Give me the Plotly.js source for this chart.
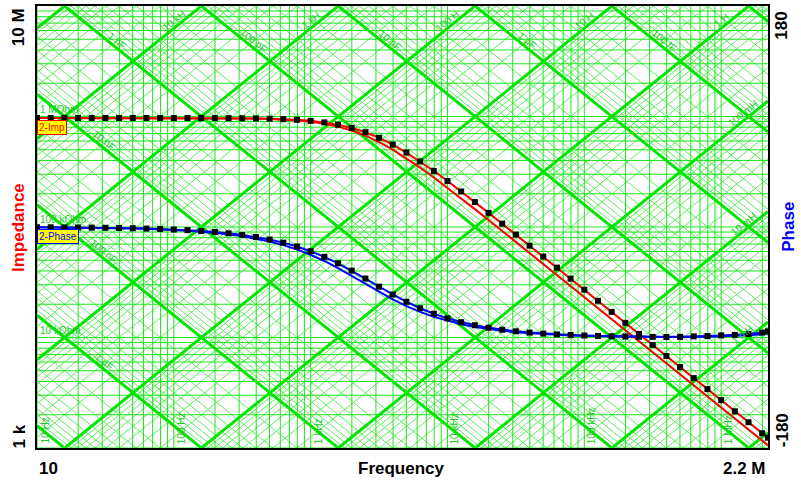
<!DOCTYPE html>
<html>
<head>
<meta charset="utf-8">
<script src="https://cdn.plot.ly/plotly-3.0.1.min.js"></script>
<style>html,body{margin:0;padding:0;background:#fff;}#chart{width:801px;height:480px;}</style>
</head>
<body>
<div id="chart"></div>
<script>
// ---- data ----
const freqHz = [10, 12.59, 15.85, 19.95, 25.12, 31.62, 39.81, 50.12, 63.1, 79.43,
  100, 125.9, 158.5, 199.5, 251.2, 316.2, 398.1, 501.2, 631, 794.3,
  1000, 1259, 1585, 1995, 2512, 3162, 3981, 5012, 6310, 7943,
  10000, 12590, 15850, 19950, 25120, 31620, 39810, 50120, 63100, 79430,
  100000, 125900, 158500, 199500, 251200, 316200, 398100, 501200, 631000, 794300,
  1000000, 1259000, 1585000, 1995000, 2200000];

const impMarked = [970000, 970000, 970000, 970000, 970000, 970000, 969900, 969800, 969800, 969600,
  969400, 969000, 968400, 967500, 966100, 963800, 960300, 954700, 946100, 932900,
  913100, 884100, 843400, 789000, 720900, 641800, 556700, 471800, 392300, 321500,
  260700, 209900, 168200, 134300, 107100, 85260, 67810, 54000, 42890, 34070,
  27060, 21500, 17070, 13570, 10770, 8560, 6800, 5400, 4290, 3410,
  2710, 2150, 1710, 1360, 1240];

const impPlain = [970000, 970000, 970000, 970000, 970000, 970000, 970000, 969900, 969700, 969500,
  969200, 968700, 967900, 966700, 964700, 961700, 956900, 949500, 938100, 920900,
  895400, 859000, 809400, 745900, 670100, 586400, 500800, 418900, 344800, 280600,
  226400, 181600, 145200, 115900, 92260, 73410, 58480, 46450, 36890, 29310,
  23280, 18490, 14690, 11670, 9270, 7360, 5850, 4640, 3690, 2930,
  2330, 1850, 1470, 1170, 1060];

const phaseMarked = [-0.21, -0.26, -0.33, -0.41, -0.52, -0.65, -0.82, -1.03, -1.30, -1.63,
  -2.05, -2.58, -3.25, -4.09, -5.14, -6.47, -8.12, -10.18, -12.74, -15.89,
  -19.72, -24.29, -29.60, -35.56, -41.99, -48.58, -54.98, -60.90, -66.15, -70.64,
  -74.41, -77.50, -80.02, -82.04, -83.66, -84.96, -85.99, -86.81, -87.47, -87.99,
  -88.40, -88.73, -88.99, -89.20, -89.36, -89.49, -89.60, -89.50, -89.10, -88.80,
  -88.30, -87.90, -87.10, -86.00, -85.00];

const phasePlain = [-0.24, -0.30, -0.38, -0.48, -0.60, -0.75, -0.95, -1.20, -1.51, -1.90,
  -2.39, -3.00, -3.78, -4.75, -5.98, -7.51, -9.42, -11.80, -14.73, -18.31,
  -22.62, -27.68, -33.44, -39.74, -46.31, -52.80, -58.91, -64.41, -69.18, -73.19,
  -76.50, -79.21, -81.39, -83.14, -84.54, -85.66, -86.55, -87.26, -87.82, -88.27,
  -88.63, -88.91, -89.13, -89.31, -89.45, -89.57, -89.65, -89.73, -89.60, -89.40,
  -89.10, -88.70, -88.20, -87.40, -86.80];

// axis extremes and tick labels
const freqRange = [10, 2200000];
const impRange = [1000, 10000000];
const phaseRange = [-180, 180];
const xTickText = ['10', '2.2 M'];
const yTickText = ['1 k', '10 M'];
const y2TickText = ['-180', '180'];

// reactance-chart grid values
const gridMantissas = [1, 2, 3, 4, 5, 6, 7, 8, 9];
const freqDecades = [10, 100, 1000, 10000, 100000, 1000000];
const impDecades = [1000, 10000, 100000, 1000000];
const indDecades = [1e-5, 1e-4, 1e-3, 1e-2, 1e-1, 1, 10, 100, 1e3, 1e4, 1e5];
const capDecades = [1e-15, 1e-14, 1e-13, 1e-12, 1e-11, 1e-10, 1e-9, 1e-8, 1e-7, 1e-6, 1e-5];

const freqLabelVals = [10, 100, 1000, 10000, 100000, 1000000];
const freqLabelText = ['10 Hz', '100 Hz', '1 kHz', '10 kHz', '100 kHz', '1 MHz'];
const impLabelVals = [1000000, 100000, 10000];
const impLabelText = ['1 MOhm', '100 kOhm', '10 kOhm'];
const indTopVals = [1e4, 1e3, 100, 10, 1];
const indTopText = ['10 kH', '1 kH', '100 H', '10 H', '1 H'];
const indRightVals = [0.1, 0.01, 0.001];
const indRightText = ['100 mH', '10 mH', '1 mH'];
const capTopVals = [1e-9, 1e-10, 1e-11, 1e-12, 1e-13];
const capTopText = ['1 nF', '100 pF', '10 pF', '1 pF', '100 fF'];
const capLeftVals = [1e-8, 1e-7, 1e-6];
const capLeftText = ['10 nF', '100 nF', '1 µF'];

// ---- build grid traces ----
const TWO_PI = 2 * Math.PI;
const fLo = freqRange[0], fHi = freqRange[1];
function zL(f, L) { return TWO_PI * f * L; }
function zC(f, C) { return 1 / (TWO_PI * f * C); }

function seg() { return {x: [], y: []}; }
const vGrid = seg(), hGrid = seg(), diagMajor = seg(), diagMinor = seg();
freqDecades.forEach(d => gridMantissas.forEach(m => {
  const f = d * m;
  if (f >= fLo && f <= fHi) { vGrid.x.push(f, f, null); vGrid.y.push(impRange[0], impRange[1], null); }
}));
impDecades.forEach(d => gridMantissas.forEach(m => {
  const z = d * m;
  hGrid.x.push(fLo, fHi, null); hGrid.y.push(z, z, null);
}));
indDecades.forEach(d => gridMantissas.forEach(m => {
  const L = d * m;
  const t = (m === 1) ? diagMajor : diagMinor;
  t.x.push(fLo, fHi, null); t.y.push(zL(fLo, L), zL(fHi, L), null);
}));
capDecades.forEach(d => gridMantissas.forEach(m => {
  const C = d * m;
  const t = (m === 1) ? diagMajor : diagMinor;
  t.x.push(fLo, fHi, null); t.y.push(zC(fLo, C), zC(fHi, C), null);
}));

function gridTrace(s, color, width) {
  return {x: s.x, y: s.y, type: 'scatter', mode: 'lines', hoverinfo: 'skip', showlegend: false,
    line: {color: color, width: width}, connectgaps: false};
}

const traces = [
  gridTrace(diagMinor, '#5eec5e', 1),
  gridTrace(vGrid, '#1ee61e', 1),
  gridTrace(hGrid, '#1ee61e', 1),
  gridTrace(diagMajor, '#00e400', 3),
  {x: freqHz, y: phasePlain, yaxis: 'y2', type: 'scatter', mode: 'lines', name: 'Phase',
    line: {color: '#0000ff', width: 2}, showlegend: false},
  {x: freqHz, y: phaseMarked, yaxis: 'y2', type: 'scatter', mode: 'lines+markers', name: '2-Phase',
    line: {color: '#0000ff', width: 2}, marker: {symbol: 'square', size: 6, color: '#000000'}, showlegend: false},
  {x: freqHz, y: impPlain, type: 'scatter', mode: 'lines', name: 'Imp',
    line: {color: '#ff0000', width: 2}, showlegend: false},
  {x: freqHz, y: impMarked, type: 'scatter', mode: 'lines+markers', name: '2-Imp',
    line: {color: '#ff0000', width: 2}, marker: {symbol: 'square', size: 6, color: '#000000'}, showlegend: false}
];

// ---- annotations ----
const lg = Math.log10;
const slopeDeg = 38.9;
const gFont = {family: 'Liberation Sans, Arial, sans-serif', size: 10, color: '#22c822'};
const ann = [];
freqLabelVals.forEach((f, i) => ann.push({x: lg(f), y: 0, xref: 'x', yref: 'paper', text: freqLabelText[i],
  textangle: -90, xanchor: 'left', yanchor: 'bottom', xshift: 0, yshift: 2, showarrow: false, font: gFont}));
impLabelVals.forEach((z, i) => ann.push({x: 0, y: lg(z), xref: 'paper', yref: 'y', text: impLabelText[i],
  xanchor: 'left', yanchor: 'bottom', xshift: 1, yshift: 0, showarrow: false, font: gFont}));
const zTop = Math.pow(10, 6.83);
indTopVals.forEach((L, i) => ann.push({x: lg(zTop / (TWO_PI * L)), y: lg(zTop), xref: 'x', yref: 'y',
  text: indTopText[i], textangle: -slopeDeg, showarrow: false, font: gFont, xshift: -4, yshift: 4}));
const fRight = 1545000;
indRightVals.forEach((L, i) => ann.push({x: lg(fRight), y: lg(zL(fRight, L)), xref: 'x', yref: 'y',
  text: indRightText[i], textangle: -slopeDeg, showarrow: false, font: gFont, xshift: -4, yshift: 4}));
const zCap = Math.pow(10, 6.65);
capTopVals.forEach((C, i) => ann.push({x: lg(1 / (TWO_PI * zCap * C)), y: lg(zCap), xref: 'x', yref: 'y',
  text: capTopText[i], textangle: slopeDeg, showarrow: false, font: gFont, xshift: 4, yshift: 4}));
const fLeft = 28.8;
capLeftVals.forEach((C, i) => ann.push({x: lg(fLeft), y: lg(zC(fLeft, C)), xref: 'x', yref: 'y',
  text: capLeftText[i], textangle: slopeDeg, showarrow: false, font: gFont, xshift: 4, yshift: 4}));

// trace tags
ann.push({x: 0, y: lg(impMarked[0]), xref: 'paper', yref: 'y', text: '2-Imp', xanchor: 'left', yanchor: 'top',
  yshift: -2, showarrow: false, bgcolor: '#ffff00', bordercolor: '#ff0000', borderwidth: 1, borderpad: 1,
  font: {family: 'Liberation Sans, Arial, sans-serif', size: 10, color: '#ff0000'}});
ann.push({x: 0, y: phaseMarked[0], xref: 'paper', yref: 'y2', text: '2-Phase', xanchor: 'left', yanchor: 'top',
  yshift: -2, showarrow: false, bgcolor: '#ffff00', bordercolor: '#0000ff', borderwidth: 1, borderpad: 1,
  font: {family: 'Liberation Sans, Arial, sans-serif', size: 10, color: '#0000ff'}});

// axis tick labels and titles (paper positions)
const aFont = {family: 'Liberation Sans, Arial, sans-serif', size: 17, color: '#000000'};
function pa(text, x, y, opts) { ann.push(Object.assign({text: text, x: x, y: y, xref: 'paper', yref: 'paper',
  xanchor: 'center', yanchor: 'middle', showarrow: false, font: aFont}, opts)); }
pa('<b>' + yTickText[1] + '</b>', -0.026, 0.952, {textangle: -90});
pa('<b>' + yTickText[0] + '</b>', -0.024, 0.027, {textangle: -90});
pa('<b>' + y2TickText[1] + '</b>', 1.019, 0.955, {textangle: -90});
pa('<b>' + y2TickText[0] + '</b>', 1.019, 0.04, {textangle: -90});
pa('<b>' + xTickText[0] + '</b>', 0, -0.047, {xanchor: 'left'});
pa('<b>' + xTickText[1] + '</b>', 1, -0.047, {xanchor: 'right'});
pa('<b>Frequency</b>', 0.498, -0.047, {});
pa('<b>Impedance</b>', -0.026, 0.5, {textangle: -90, font: Object.assign({}, aFont, {color: '#ff0000'})});
pa('<b>Phase</b>', 1.027, 0.5, {textangle: -90, font: Object.assign({}, aFont, {color: '#0000ff'})});

const axBase = {showgrid: false, zeroline: false, showticklabels: false, ticks: '',
  showline: true, linecolor: '#000000', linewidth: 2, mirror: true};
const layout = {
  width: 801, height: 480,
  margin: {l: 37, r: 33, t: 6, b: 32, pad: 0},
  paper_bgcolor: '#ffffff', plot_bgcolor: '#ffffff',
  showlegend: false,
  xaxis: Object.assign({}, axBase, {type: 'log', range: [lg(freqRange[0]), lg(freqRange[1])]}),
  yaxis: Object.assign({}, axBase, {type: 'log', range: [lg(impRange[0]), lg(impRange[1])]}),
  yaxis2: {overlaying: 'y', side: 'right', range: phaseRange, showgrid: false, zeroline: false,
    showticklabels: false, ticks: '', showline: false},
  annotations: ann
};
Plotly.newPlot('chart', traces, layout, {staticPlot: true, displayModeBar: false});
</script>
</body>
</html>
